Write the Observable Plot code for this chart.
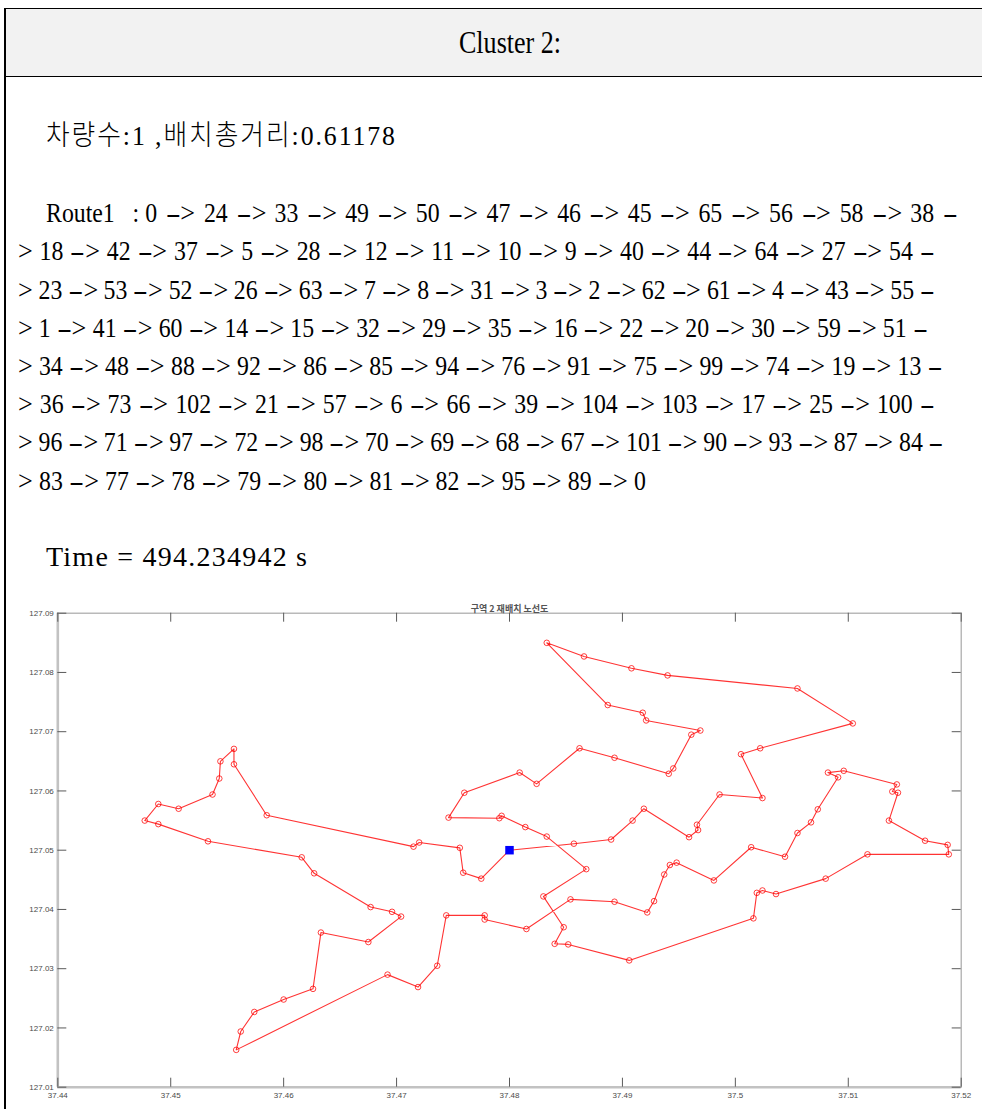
<!DOCTYPE html>
<html>
<head>
<meta charset="utf-8">
<script src="https://cdn.jsdelivr.net/npm/d3@7"></script>
<script src="https://cdn.jsdelivr.net/npm/@observablehq/plot@0.6"></script>
<style>
  html, body { margin: 0; padding: 0; background: #fff; }
  body { width: 982px; height: 1109px; position: relative; overflow: hidden;
         font-family: "Liberation Serif", "Noto Sans CJK KR", serif; color: #000; }
  #hdr { position: absolute; left: 5px; top: 8px; width: 977px; height: 67px; background: #f2f2f2;
         border-top: 1.5px solid #000; border-bottom: 1.5px solid #000; }
  #vline { position: absolute; left: 4px; top: 8px; width: 1.5px; height: 1101px; background: #000; }
  #hdrText { position: absolute; left: 510px; top: 8px; line-height: 70px; font-size: 31px;
             white-space: pre; transform: translateX(-50%) scaleX(0.84); transform-origin: center; }
  .ln { position: absolute; white-space: pre; font-size: 28px; line-height: 38px; transform-origin: left center; }
  .ln .d { display: inline-block; width: 0.633em; text-align: center; transform: scaleX(1.9); margin-left: var(--gap, 0px); }
  .ln .a { display: inline-block; width: 0.62em; text-align: center; transform: scaleX(1.1); margin-right: var(--gap, 0px); }
  #chart { position: absolute; left: 0; top: 590px; }
</style>
</head>
<body>
<div id="hdr"></div>
<div id="vline"></div>
<div id="hdrText"></div>
<div id="text"></div>
<div id="chart"></div>
<script>
// ---------- data ----------
const headerTitle = "Cluster 2:";
const summaryLine = "차량수:1 ,배치총거리:0.61178";
const routeLines = [
  "Route1   : 0->24->33->49->50->47->46->45->65->56->58->38-",
  ">18->42->37->5->28->12->11->10->9->40->44->64->27->54-",
  ">23->53->52->26->63->7->8->31->3->2->62->61->4->43->55-",
  ">1->41->60->14->15->32->29->35->16->22->20->30->59->51-",
  ">34->48->88->92->86->85->94->76->91->75->99->74->19->13-",
  ">36->73->102->21->57->6->66->39->104->103->17->25->100-",
  ">96->71->97->72->98->70->69->68->67->101->90->93->87->84-",
  ">83->77->78->79->80->81->82->95->89->0"
];
const timeLine = "Time = 494.234942 s";
const chartTitle = "구역 2 재배치 노선도";

const depotX = 37.4800;
const depotY = 127.0500;

// stops in the order the route line visits them (x = first coord, y = second coord)
const stopX = [
  37.4857, 37.4890, 37.4909, 37.4919, 37.4959, 37.4967, 37.4966, 37.4986, 37.5024, 37.5005,
  37.5022, 37.5104, 37.5055, 37.4940, 37.4908, 37.4866, 37.4833, 37.4887, 37.4918, 37.4921,
  37.4969, 37.4961, 37.4945, 37.4941, 37.4893, 37.4862, 37.4824, 37.4809, 37.4760, 37.4746,
  37.4791, 37.4793, 37.4814, 37.4833, 37.4868, 37.4830, 37.4848, 37.4840, 37.4852, 37.4906,
  37.5016, 37.5019, 37.5024, 37.5036, 37.5080, 37.5117, 37.5189, 37.5188, 37.5168, 37.5136,
  37.5144, 37.5139, 37.5143, 37.5096, 37.5082, 37.5091, 37.5073, 37.5067, 37.5055, 37.5044,
  37.5014, 37.4981, 37.4948, 37.4942, 37.4937, 37.4928, 37.4922, 37.4893, 37.4854, 37.4815,
  37.4778, 37.4778, 37.4744, 37.4736, 37.4719, 37.4692, 37.4558, 37.4562, 37.4574, 37.4600,
  37.4626, 37.4633, 37.4675, 37.4704, 37.4696, 37.4677, 37.4627, 37.4616, 37.4533, 37.4489,
  37.4477, 37.4489, 37.4507, 37.4537, 37.4543, 37.4544, 37.4556, 37.4556, 37.4585, 37.4715,
  37.4720, 37.4756, 37.4759, 37.4775
];
const stopY = [
  127.0511, 127.0518, 127.0550, 127.0570, 127.0522, 127.0534, 127.0543, 127.0594, 127.0588, 127.0662,
  127.0672, 127.0714, 127.0773, 127.0795, 127.0807, 127.0827, 127.0850, 127.0745, 127.0732, 127.0719,
  127.0702, 127.0695, 127.0638, 127.0629, 127.0656, 127.0672, 127.0612, 127.0631, 127.0597, 127.0555,
  127.0554, 127.0558, 127.0539, 127.0523, 127.0468, 127.0422, 127.0370, 127.0342, 127.0341, 127.0314,
  127.0385, 127.0428, 127.0432, 127.0426, 127.0452, 127.0493, 127.0493, 127.0509, 127.0516, 127.0550,
  127.0597, 127.0599, 127.0611, 127.0634, 127.0631, 127.0623, 127.0569, 127.0547, 127.0529, 127.0489,
  127.0505, 127.0449, 127.0479, 127.0475, 127.0459, 127.0414, 127.0395, 127.0413, 127.0417, 127.0367,
  127.0383, 127.0390, 127.0390, 127.0305, 127.0269, 127.0290, 127.0163, 127.0194, 127.0227, 127.0248,
  127.0266, 127.0361, 127.0345, 127.0388, 127.0396, 127.0404, 127.0461, 127.0488, 127.0515, 127.0544,
  127.0550, 127.0578, 127.0570, 127.0594, 127.0621, 127.0650, 127.0671, 127.0645, 127.0559, 127.0506,
  127.0513, 127.0504, 127.0462, 127.0452
];

const xTicks = [37.44, 37.45, 37.46, 37.47, 37.48, 37.49, 37.50, 37.51, 37.52];
const xTickLabels = ["37.44", "37.45", "37.46", "37.47", "37.48", "37.49", "37.5", "37.51", "37.52"];
const yTicks = [127.01, 127.02, 127.03, 127.04, 127.05, 127.06, 127.07, 127.08, 127.09];
const yTickLabels = ["127.01", "127.02", "127.03", "127.04", "127.05", "127.06", "127.07", "127.08", "127.09"];

// ---------- text layout ----------
document.getElementById("hdrText").textContent = headerTitle;

const textLayout = [
  { text: summaryLine, left: 46, center: 136, width: 349, scale: 0.92, weight: 300, arrows: false },
  { text: routeLines[0], left: 46, center: 213, width: 912, scale: 0.85, arrows: true },
  { text: routeLines[1], left: 18, center: 251, width: 917, scale: 0.85, arrows: true },
  { text: routeLines[2], left: 18, center: 290, width: 917, scale: 0.85, arrows: true },
  { text: routeLines[3], left: 18, center: 328, width: 910, scale: 0.85, arrows: true },
  { text: routeLines[4], left: 18, center: 366, width: 925, scale: 0.85, arrows: true },
  { text: routeLines[5], left: 18, center: 404, width: 917, scale: 0.85, arrows: true },
  { text: routeLines[6], left: 18, center: 442, width: 926, scale: 0.85, arrows: true },
  { text: routeLines[7], left: 18, center: 481, width: 628, scale: 0.85, arrows: true },
  { text: timeLine, left: 46, center: 557, width: 261, scale: 1, arrows: false }
];

function fillArrowLine(el, text) {
  let gaps = 0;
  const chars = [...text];
  chars.forEach((c, i) => {
    const next = chars[i + 1], prev = chars[i - 1];
    if (c === "-") {
      const s = document.createElement("span"); s.className = "d"; s.textContent = c; el.appendChild(s);
      if (prev !== undefined) gaps++; else s.style.marginLeft = "0px";
    } else if (c === ">") {
      const s = document.createElement("span"); s.className = "a"; s.textContent = c; el.appendChild(s);
      if (next !== undefined) gaps++; else s.style.marginRight = "0px";
    } else {
      el.appendChild(document.createTextNode(c));
    }
  });
  return gaps;
}

const textBox = document.getElementById("text");
for (const t of textLayout) {
  const el = document.createElement("div");
  el.className = "ln";
  el.style.left = t.left + "px";
  el.style.top = (t.center - 19) + "px";
  if (t.weight) el.style.fontWeight = t.weight;
  textBox.appendChild(el);
  if (t.arrows) {
    const gaps = fillArrowLine(el, t.text);
    el.style.setProperty("--gap", "0px");
    const w0 = el.getBoundingClientRect().width;
    el.style.setProperty("--gap", ((t.width / t.scale - w0) / Math.max(gaps, 1)) + "px");
  } else {
    el.textContent = t.text;
    const w0 = el.getBoundingClientRect().width;
    const n = [...t.text].length;
    el.style.letterSpacing = ((t.width / t.scale - w0) / (n - 1)) + "px";
  }
  el.style.transform = "scaleX(" + t.scale + ")";
}

// ---------- chart ----------
const W = 982, H = 519, mL = 57.3, mR = 21.3, mT = 22.7, mB = 22.3;
const xDom = [xTicks[0], xTicks[xTicks.length - 1]];
const yDom = [yTicks[0], yTicks[yTicks.length - 1]];
const tickPx = 9;
const tyLen = tickPx * (yDom[1] - yDom[0]) / (H - mT - mB);
const txLen = tickPx * (xDom[1] - xDom[0]) / (W - mL - mR);

const depot = { x: depotX, y: depotY };
const stops = stopX.map((x, i) => ({ x, y: stopY[i] }));
const route = [depot, ...stops, depot];

const chart = Plot.plot({
  width: W, height: H,
  marginLeft: mL, marginRight: mR, marginTop: mT, marginBottom: mB,
  style: { fontFamily: "'Liberation Sans', Arial, sans-serif", fontSize: "8px", color: "#4a4a4a",
           background: "transparent", overflow: "visible" },
  x: { domain: xDom, ticks: xTicks, tickFormat: d => xTickLabels[xTicks.indexOf(d)],
       tickSize: 0, tickPadding: 5, label: null },
  y: { domain: yDom, ticks: yTicks, tickFormat: d => yTickLabels[yTicks.indexOf(d)],
       tickSize: 0, tickPadding: 4, label: null },
  marks: [
    Plot.frame({ stroke: "#a8a8a8", strokeWidth: 1.2 }),
    Plot.ruleX([xDom[0]], { stroke: "#c2c2c2", strokeWidth: 2.6 }),
    Plot.ruleY([yDom[0]], { stroke: "#c2c2c2", strokeWidth: 2.6 }),
    Plot.ruleX(xTicks, { x: d => d, y1: yDom[0], y2: yDom[0] + tyLen, stroke: "#5a5a5a", strokeWidth: 1 }),
    Plot.ruleX(xTicks, { x: d => d, y1: yDom[1], y2: yDom[1] - tyLen, stroke: "#5a5a5a", strokeWidth: 1 }),
    Plot.ruleY(yTicks, { y: d => d, x1: xDom[0], x2: xDom[0] + txLen, stroke: "#5a5a5a", strokeWidth: 1 }),
    Plot.ruleY(yTicks, { y: d => d, x1: xDom[1], x2: xDom[1] - txLen, stroke: "#5a5a5a", strokeWidth: 1 }),
    Plot.line(route, { x: "x", y: "y", stroke: "#ff0000", strokeWidth: 1.1, strokeOpacity: 0.8 }),
    Plot.dot(stops, { x: "x", y: "y", r: 2.8, stroke: "#ff0000", strokeWidth: 1, strokeOpacity: 0.75, fill: "none" }),
    Plot.dot([depot], { x: "x", y: "y", symbol: "square", r: 4.8, fill: "#0000ff", stroke: "none" }),
    Plot.text([chartTitle], { frameAnchor: "top", dy: -8, fontSize: 9, fontWeight: "bold", fill: "#555",
                              fontFamily: "'Noto Sans CJK KR', sans-serif" })
  ]
});
document.getElementById("chart").appendChild(chart);
</script>
</body>
</html>
